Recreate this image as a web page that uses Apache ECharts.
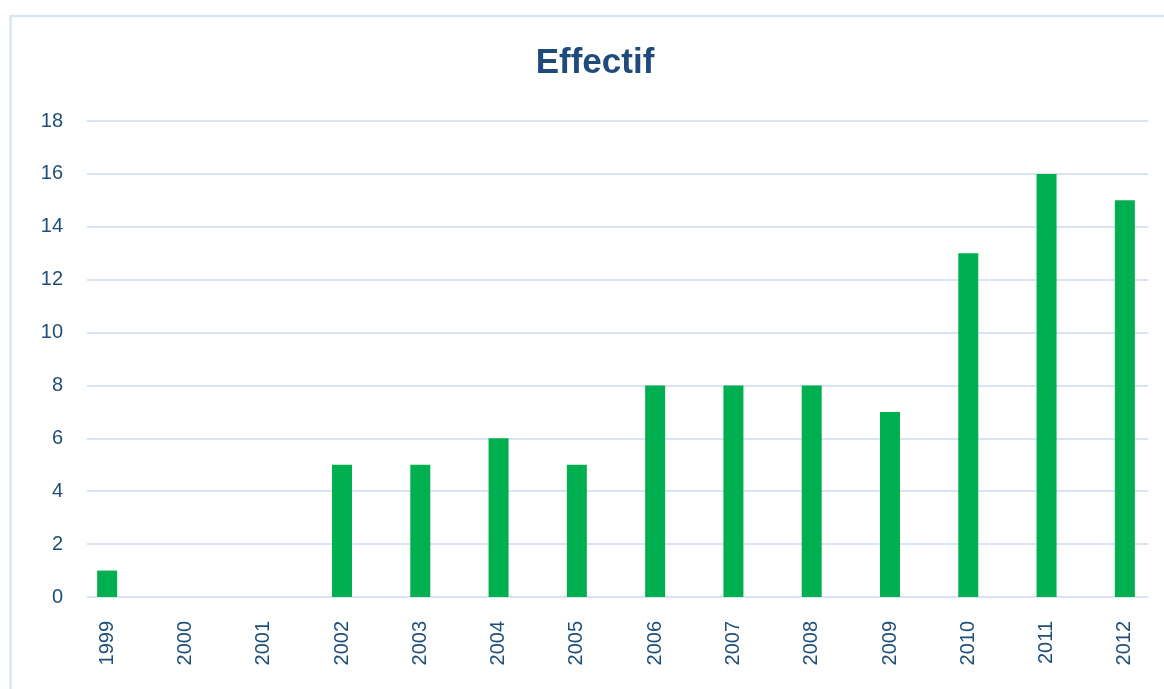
<!DOCTYPE html>
<html>
<head>
<meta charset="utf-8">
<script src="https://cdn.jsdelivr.net/npm/echarts@6/dist/echarts.min.js"></script>
<style>html,body{margin:0;padding:0;background:#fff}#c{width:1164px;height:689px}</style>
</head>
<body>
<div id="c"></div>
<script>
const categories = ['1999','2000','2001','2002','2003','2004','2005','2006','2007','2008','2009','2010','2011','2012'];
const effectif = [1, 0, 0, 5, 5, 6, 5, 8, 8, 8, 7, 13, 16, 15];
const yTicks = [0, 2, 4, 6, 8, 10, 12, 14, 16, 18];

const textColor = '#1F4E79';
const font = 'Liberation Sans';
const chart = echarts.init(document.getElementById('c'));
chart.setOption({
  animation: false,
  title: {
    text: 'Effectif', left: 590, top: 41, textAlign: 'center',
    textStyle: { color: '#1F4A7C', fontSize: 35, fontWeight: 'bold', fontFamily: font }
  },
  graphic: [{
    type: 'rect', shape: { x: 10.5, y: 16, width: 1200, height: 700 },
    style: { fill: 'none', stroke: '#DAE5F5', lineWidth: 2.5 }, z: -1
  }],
  grid: [
    { left: 87, right: 16, top: 121, bottom: 92 },
    { left: 68, width: 1103, top: 121, bottom: 92 }
  ],
  xAxis: [
    { gridIndex: 0, type: 'category', data: categories, show: false },
    {
      gridIndex: 1, type: 'category', data: categories,
      axisLine: { show: false }, axisTick: { show: false },
      axisLabel: { rotate: 90, margin: 24, color: textColor, fontSize: 20, fontFamily: font }
    }
  ],
  yAxis: [
    {
      gridIndex: 0, type: 'value', min: yTicks[0], max: yTicks[yTicks.length - 1], interval: 2,
      axisLine: { show: false }, axisTick: { show: false },
      axisLabel: { margin: 24, color: textColor, fontSize: 20, fontFamily: font },
      splitLine: { lineStyle: { color: '#D9E3F2', width: 2 } }
    },
    {
      gridIndex: 1, type: 'value', min: yTicks[0], max: yTicks[yTicks.length - 1], interval: 2,
      show: false, splitLine: { show: false }
    }
  ],
  series: [{
    type: 'bar', xAxisIndex: 1, yAxisIndex: 1, data: effectif,
    barWidth: 20, itemStyle: { color: '#00B050' }
  }]
});
</script>
</body>
</html>
